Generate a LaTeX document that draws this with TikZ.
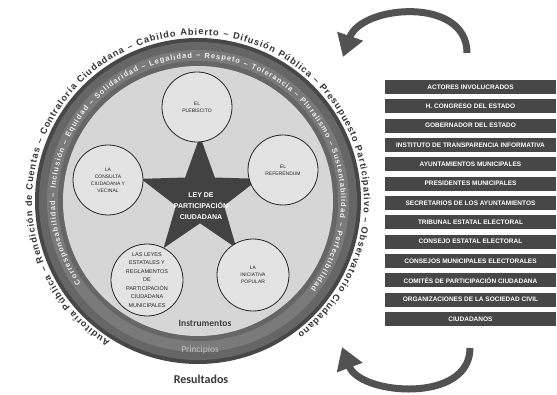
\documentclass[tikz,border=0pt]{standalone}
\usepackage{fontspec}
\setmainfont{Liberation Sans}
\newfontfamily\carlito{Carlito}
\usetikzlibrary{shapes.geometric,decorations.text,arrows.meta}
\tikzset{
  instr/.style={circle,draw=black!85,line width=0.8pt,fill=black!11,minimum size=70pt,inner sep=0pt,align=center,font=\fontsize{5}{7}\selectfont,text=black!85},
  actor/.style={rectangle,fill=black!72,text=white,font=\bfseries\fontsize{6.5}{6.5}\selectfont,minimum width=171pt,minimum height=14pt,inner sep=0pt},
  bigarrow/.style={draw=black!68,line width=7pt,-{Triangle[length=22pt,width=26pt]}},
}
\begin{document}
\begin{tikzpicture}[x=1pt,y=1pt]
\useasboundingbox (0,0) rectangle (557,394);
\fill[white] (0,0) rectangle (557,394);
\coordinate (C) at (198,193);
% ring
\fill[black!72] (C) circle (163);
\fill[black!60] (C) circle (159);
\fill[black!52] (C) circle (151);
\fill[black!60] (C) circle (140);
\fill[black!16] (C) circle (135);
% outer text
\path[decorate,decoration={text along path,text align={fit to path},text color=black!80,
  text={|\bfseries\fontsize{9.2}{9.2}\selectfont|Auditoría Pública – Rendición de Cuentas – Contraloría Ciudadana – Cabildo Abierto – Difusión Pública – Presupuesto Participativo – Observatorio Ciudadano}}]
  (C) ++(238:166) arc[start angle=238,end angle=-53,radius=166];
% band text
\path[decorate,decoration={text along path,text align={fit to path},text color=black!6,
  text={|\bfseries\fontsize{7.5}{7.5}\selectfont|Corresponsabilidad – Inclusión – Equidad – Solidaridad – Legalidad – Respeto – Tolerancia – Pluralismo – Sustentabilidad – Perfectibilidad}}]
  (C) ++(215:143) arc[start angle=215,end angle=-38,radius=143];
% star
\node[star,star points=5,star point ratio=2.45,minimum size=124pt,inner sep=0pt,fill=black!74] (star) at (200,196) {};
\node[text=white,font=\bfseries\fontsize{7}{11}\selectfont,align=center] (law) at (201,188) {LEY DE\\PARTICIPACIÓN\\CIUDADANA};
% instruments
\node[instr] (plebiscito) at (197,287) {EL\\PLEBISCITO};
\node[instr] (referendum) at (283,224) {EL\\REFERÉNDUM};
\node[instr] (consulta) at (108,214) {LA\\CONSULTA\\CIUDADANA Y\\VECINAL};
\node[instr,minimum size=72pt] (iniciativa) at (253,119) {LA\\INICIATIVA\\POPULAR};
\node[instr,minimum size=72pt,font=\fontsize{5.5}{8.5}\selectfont] (leyes) at (147,114) {LAS LEYES\\ESTATALES Y\\REGLAMENTOS\\DE\\PARTICIPACIÓN\\CIUDADANA\\MUNICIPALES};
\node[font=\carlito\bfseries\fontsize{9.5}{10}\selectfont,text=black!75] (instrumentos) at (205,71) {Instrumentos};
\node[font=\carlito\fontsize{9.5}{10}\selectfont,text=black!25] (principios) at (200,44) {Principios};
\node[font=\carlito\bfseries\fontsize{12}{13}\selectfont,text=black!78] (resultados) at (201,15) {Resultados};
% actors list
\foreach \t [count=\i from 0] in {ACTORES INVOLUCRADOS,H. CONGRESO DEL ESTADO,GOBERNADOR DEL ESTADO,INSTITUTO DE TRANSPARENCIA INFORMATIVA,AYUNTAMIENTOS MUNICIPALES,PRESIDENTES MUNICIPALES,SECRETARIOS DE LOS AYUNTAMIENTOS,TRIBUNAL ESTATAL ELECTORAL,CONSEJO ESTATAL ELECTORAL,CONSEJOS MUNICIPALES ELECTORALES,COMITÉS DE PARTICIPACIÓN CIUDADANA,ORGANIZACIONES DE LA SOCIEDAD CIVIL,CIUDADANOS}
  \node[actor] (actor\i) at (470.5,{394-87-19.33*\i}) {\t};
% arrows
\coordinate (ta1) at (467,341);
\coordinate (ta2) at (343,337);
\coordinate (ba1) at (470,46);
\coordinate (ba2) at (342,47);
\draw[bigarrow] (ta1) .. controls (467,398) and (361,389) .. (ta2);
\draw[bigarrow] (ba1) .. controls (470,-10) and (360,-1) .. (ba2);
\end{tikzpicture}
\end{document}
